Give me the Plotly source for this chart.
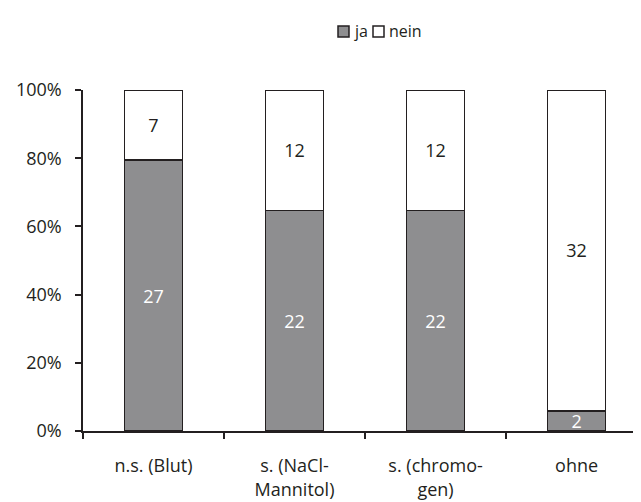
import plotly.graph_objects as go

categories = ["n.s. (Blut)", "s. (NaCl-<br>Mannitol)", "s. (chromo-<br>gen)", "ohne"]
ja = [27, 22, 22, 2]
nein = [7, 12, 12, 32]
series_names = ["ja", "nein"]
y_ticks = [0, 20, 40, 60, 80, 100]
y_tick_labels = ["0%", "20%", "40%", "60%", "80%", "100%"]

totals = [a + b for a, b in zip(ja, nein)]
ja_pct = [100 * a / t for a, t in zip(ja, totals)]
nein_pct = [100 * b / t for b, t in zip(nein, totals)]

FONT = "Open Sans"
INK = "#231f20"
GRAY = "#8e8e90"
OFF = 8  # page body margin of the browser
W, H = 641 - OFF, 502 - OFF
L, R, T, B = 83 - OFF, 641 - OFF, 90 - OFF, 431 - OFF


def px_x(x):
    # window pixel -> paper fraction
    return (x - OFF - L) / (R - L)


def px_y(y):
    return (B - (y - OFF)) / (B - T)


fig = go.Figure()
fig.add_trace(go.Bar(
    x=categories, y=ja_pct, name=series_names[0], text=[str(v) for v in ja],
    textposition="inside", insidetextanchor="middle", textangle=0,
    textfont=dict(color="white", size=18, family=FONT),
    marker=dict(color=GRAY, line=dict(color=INK, width=1.5)),
    width=0.41, hoverinfo="skip", cliponaxis=False,
))
fig.add_trace(go.Bar(
    x=categories, y=nein_pct, name=series_names[1], text=[str(v) for v in nein],
    textposition="inside", insidetextanchor="middle", textangle=0,
    textfont=dict(color=INK, size=18, family=FONT),
    marker=dict(color="white", line=dict(color=INK, width=1.5)),
    width=0.41, hoverinfo="skip", cliponaxis=False,
))

# legend drawn as shapes + text to match the compact original layout
legend_items = [(series_names[0], GRAY, 338, 352), (series_names[1], "white", 373, 387)]
for name, color, sx, tx in legend_items:
    fig.add_shape(type="rect", xref="paper", yref="paper",
                  x0=px_x(sx), x1=px_x(sx + 11), y0=px_y(37), y1=px_y(26),
                  fillcolor=color, line=dict(color=INK, width=1.5))
    fig.add_annotation(text=name, xref="paper", yref="paper",
                       x=px_x(tx), y=px_y(31.5), xanchor="left", yanchor="middle",
                       showarrow=False, font=dict(size=16, color=INK, family=FONT))

fig.update_layout(
    barmode="stack",
    width=W, height=H,
    margin=dict(l=L, r=W - R, t=T, b=H - B, autoexpand=False),
    paper_bgcolor="white", plot_bgcolor="white",
    font=dict(family=FONT, color=INK, size=18),
    showlegend=False,
    uniformtext=dict(minsize=18, mode="show"),
)
fig.update_xaxes(
    type="category", range=[-0.5, 3.457], automargin=False,
    showline=True, linecolor=INK, linewidth=1.5,
    ticks="outside", tickson="boundaries", ticklen=6, tickcolor=INK, tickwidth=1.5,
    showgrid=False, zeroline=False, ticklabelstandoff=18,
    tickfont=dict(size=18, color=INK),
)
fig.update_yaxes(
    range=[0, 100], tickvals=y_ticks, ticktext=y_tick_labels, automargin=False,
    showline=True, linecolor=INK, linewidth=1.5,
    ticks="outside", ticklen=6, tickcolor=INK, tickwidth=1.5,
    showgrid=False, zeroline=False,
    tickfont=dict(size=18, color=INK), ticklabelstandoff=10,
)

fig.write_html("out.html")
